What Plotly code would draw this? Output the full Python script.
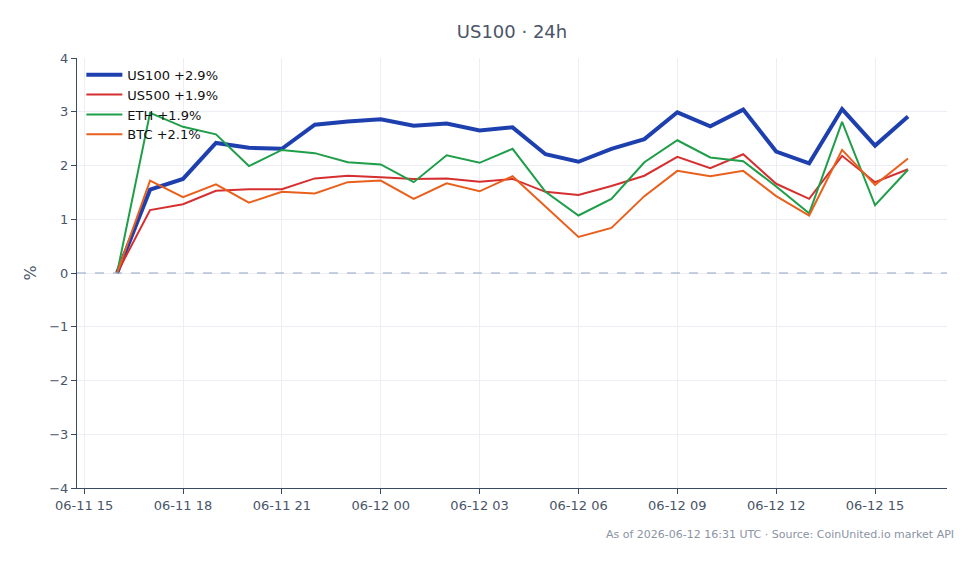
import plotly.graph_objects as go
import pandas as pd

times = pd.date_range("2026-06-11 16:00", "2026-06-12 16:00", freq="1h")

us100 = [0, 1.55, 1.75, 2.42, 2.33, 2.31, 2.76, 2.82, 2.86, 2.74, 2.78, 2.65, 2.71,
         2.21, 2.07, 2.31, 2.49, 2.99, 2.73, 3.04, 2.26, 2.04, 3.05, 2.37, 2.91]
us500 = [0, 1.17, 1.28, 1.53, 1.56, 1.56, 1.76, 1.81, 1.78, 1.75, 1.76, 1.70, 1.75,
         1.51, 1.45, 1.62, 1.81, 2.16, 1.95, 2.21, 1.66, 1.38, 2.18, 1.69, 1.93]
eth = [0, 2.98, 2.72, 2.58, 1.99, 2.29, 2.23, 2.06, 2.02, 1.69, 2.19, 2.05, 2.31,
       1.51, 1.07, 1.38, 2.06, 2.47, 2.15, 2.08, 1.61, 1.11, 2.81, 1.26, 1.92]
btc = [0, 1.72, 1.41, 1.65, 1.31, 1.51, 1.48, 1.69, 1.72, 1.38, 1.67, 1.52, 1.80,
       1.24, 0.67, 0.84, 1.43, 1.90, 1.80, 1.90, 1.43, 1.07, 2.29, 1.64, 2.13]

names = ["US100 +2.9%", "US500 +1.9%", "ETH +1.9%", "BTC +2.1%"]
colors = ["#1e40af", "#d62f2f", "#1f9e4a", "#e8601c"]
widths = [4, 2, 2, 2]
series = [us100, us500, eth, btc]

font_family = "DejaVu Sans"
fig = go.Figure()
for name, vals, col, w in zip(names, series, colors, widths):
    fig.add_trace(go.Scatter(x=times, y=vals, mode="lines", name=name,
                             line=dict(color=col, width=w)))

fig.add_hline(y=0, line=dict(color="#8fa3c4", width=1, dash="dash"))

fig.update_layout(
    width=979, height=564,
    margin=dict(l=77, r=32, t=58, b=76),
    paper_bgcolor="white", plot_bgcolor="white",
    font=dict(family=font_family, size=13, color="#4a5568"),
    title=dict(text="US100 · 24h", x=0.5, xref="paper", xanchor="center",
               y=0.943, yref="container", yanchor="middle",
               font=dict(size=18, color="#4a5568")),
    legend=dict(x=0.005, y=0.996, xanchor="left", yanchor="top",
                bgcolor="rgba(255,255,255,0)", font=dict(size=13, color="#111"),
                tracegroupgap=0, itemwidth=36),
    showlegend=True,
)
fig.update_xaxes(
    type="date",
    range=["2026-06-11 14:47", "2026-06-12 17:11"],
    dtick=3 * 3600 * 1000, tick0="2026-06-11 15:00",
    tickformat="%m-%d %H",
    showgrid=True, gridcolor="#eceef3",
    showline=True, linecolor="#3b4a5e", linewidth=1,
    ticks="outside", ticklen=5, tickcolor="#3b4a5e",
    zeroline=False,
)
fig.update_yaxes(
    range=[-4, 4], dtick=1,
    title=dict(text="%", standoff=8),
    showgrid=True, gridcolor="#eceef3",
    showline=True, linecolor="#3b4a5e", linewidth=1,
    ticks="outside", ticklen=5, tickcolor="#3b4a5e",
    zeroline=False,
)
fig.add_annotation(
    text="As of 2026-06-12 16:31 UTC · Source: CoinUnited.io market API",
    xref="paper", yref="paper", x=1.01, y=-0.107, xanchor="right", yanchor="middle",
    showarrow=False, font=dict(size=11, color="#8a94a3"),
)

fig.write_html("out.html")
